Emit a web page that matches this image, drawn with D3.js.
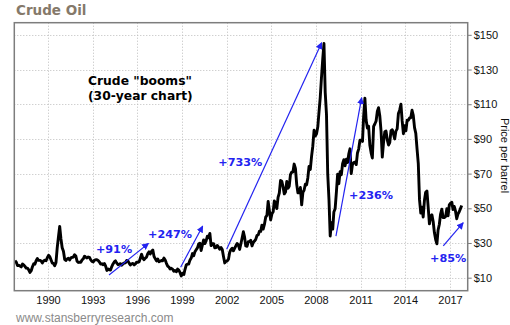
<!DOCTYPE html>
<html><head><meta charset="utf-8">
<script src="https://cdn.jsdelivr.net/npm/d3@7"></script>
<style>body{margin:0;background:#fff}svg{display:block}</style>
</head><body>
<svg id="c" width="510" height="325"></svg>
<script>
// ---- data ----
const startMonth = [1987, 9]; // October 1987 (month index 9)
const pricesUsd = [
  19.8, 18.9, 17.0,
  17.1, 16.7, 16.2, 17.9, 17.4, 16.5, 15.5, 15.5, 14.5, 13.0, 14.0, 16.3,
  18.0, 17.8, 19.8, 21.0, 20.0, 20.0, 19.6, 18.5, 19.6, 20.1, 19.8, 21.5,
  22.9, 22.1, 20.4, 18.4, 18.2, 16.9, 18.6, 27.2, 33.7, 39.5, 32.3, 27.3,
  25.2, 20.5, 19.9, 20.8, 21.2, 20.2, 21.4, 21.7, 21.9, 23.2, 22.5, 19.5,
  18.8, 19.0, 18.9, 20.2, 20.9, 22.4, 21.8, 21.4, 21.9, 21.7, 20.3, 19.4,
  19.1, 20.1, 20.3, 20.3, 19.9, 19.1, 17.9, 18.0, 17.5, 18.2, 16.7, 14.2,
  15.0, 14.5, 14.4, 16.4, 17.9, 19.1, 19.7, 18.4, 17.5, 17.7, 18.1, 17.2,
  18.0, 18.5, 18.6, 19.9, 19.7, 18.4, 17.3, 18.0, 18.2, 17.4, 18.0, 19.0,
  18.9, 19.1, 21.3, 23.5, 21.2, 20.4, 21.3, 21.9, 23.9, 24.9, 23.7, 25.2,
  25.9, 22.2, 21.0, 19.7, 20.8, 19.2, 19.6, 19.9, 19.8, 21.3, 20.2, 18.3,
  16.7, 16.1, 15.0, 15.4, 14.9, 13.7, 14.1, 13.4, 15.0, 14.4, 12.9, 11.0,
  12.5, 11.8, 14.7, 17.3, 17.8, 17.9, 20.1, 21.3, 23.9, 22.6, 25.0, 26.1,
  27.2, 29.4, 29.9, 25.7, 28.8, 31.8, 29.7, 31.2, 33.9, 33.1, 35.5, 28.5,
  29.6, 29.6, 27.2, 27.4, 28.6, 27.6, 26.4, 27.4, 26.2, 22.2, 18.5, 19.4,
  19.7, 20.7, 24.5, 26.2, 27.0, 25.5, 26.9, 28.4, 29.7, 28.9, 26.3, 29.4,
  32.9, 36.5, 33.6, 28.3, 28.1, 30.7, 30.8, 31.6, 28.3, 30.3, 31.1, 32.1,
  34.3, 34.7, 36.8, 36.7, 40.3, 38.0, 40.7, 44.9, 45.9, 54.0, 48.5, 43.3,
  46.8, 48.0, 54.3, 53.0, 49.8, 56.3, 58.7, 66.0, 65.6, 62.4, 58.3, 59.4,
  65.5, 61.6, 62.7, 69.4, 70.8, 70.9, 75.5, 73.0, 63.8, 58.9, 59.1, 62.0,
  52.0, 59.3, 60.4, 63.9, 63.5, 67.5, 74.1, 72.4, 79.9, 85.8, 95.0, 91.7,
  93.0, 97.0, 105.5, 114.0, 125.4, 136.0, 145.0, 116.7, 104.1, 70.0, 55.0, 34.0,
  41.7, 38.0, 47.9, 49.7, 59.0, 69.6, 64.2, 71.1, 69.4, 75.7, 78.0, 74.5,
  78.3, 76.4, 81.2, 84.3, 70.0, 75.3, 76.3, 76.6, 75.2, 81.9, 84.3, 89.2,
  89.2, 88.6, 102.9, 113.5, 100.9, 96.3, 97.3, 86.3, 82.0, 79.0, 97.2, 98.6,
  100.3, 106.0, 108.0, 103.3, 94.7, 79.5, 87.9, 94.1, 94.5, 89.5, 86.5, 87.9,
  94.8, 95.3, 92.9, 90.0, 94.5, 95.8, 104.6, 106.6, 110.0, 100.5, 93.0, 97.6,
  94.6, 100.8, 100.8, 102.1, 102.2, 106.5, 103.6, 96.5, 93.2, 84.4, 75.8, 55.0,
  47.2, 50.6, 45.0, 54.5, 59.3, 60.0, 50.9, 41.0, 45.5, 46.2, 42.4, 36.0,
  32.0, 29.5, 37.5, 40.8, 46.7, 49.5, 44.7, 44.7, 45.2, 49.8, 45.7, 52.0,
  53.0, 53.5, 49.3, 51.1, 48.5, 44.0, 46.6, 48.0, 49.8, 51.6
];
const xTickYears = [1990, 1993, 1996, 1999, 2002, 2005, 2008, 2011, 2014, 2017];
const yTickValues = [10, 30, 50, 70, 90, 110, 130, 150];
// annotations: label, label anchor (year, price), arrow start (year, price), arrow end (year, price)
const boomLabels = ["+91%", "+247%", "+733%", "+236%", "+85%"];
const labelAt   = [[1993.22, 24.2], [1996.72, 32.9], [2001.44, 74.6], [2010.22, 55.4], [2015.66, 19.05]];
const arrowFrom = [[1994.10, 11.6], [1998.91, 16.0], [2002.0, 26.4], [2009.34, 34.0], [2016.55, 28.3]];
const arrowTo   = [[1996.75, 29.8], [2000.39, 39.8], [2008.38, 145.5], [2011.07, 113.8], [2017.89, 41.7]];

// ---- scales ----
const L = 14.3, R = 467.7, T = 22.7, B = 290.7;
const yearToDate = yr => { const y = Math.floor(yr); const f = yr - y;
  const a = new Date(y, 0, 1), b = new Date(y + 1, 0, 1); return new Date(+a + f * (b - a)); };
const xRef = d3.scaleTime().domain([new Date(1990,0,1), new Date(2017,0,1)]).range([48, 450]);
const x = d3.scaleTime().domain([xRef.invert(L), xRef.invert(R)]).range([L, R]);
const y = d3.scaleLinear().domain([2.5, 157]).range([B, T]);

const data = pricesUsd.map((v, i) => ({ date: new Date(startMonth[0], startMonth[1] + i, 15), v }));

const svg = d3.select("#c");

// title
svg.append("text").attr("x", 16).attr("y", 15)
  .style("font-family", "DejaVu Sans, Verdana, sans-serif").style("font-weight", "bold")
  .style("font-size", "13.5px").attr("fill", "#85796a").text("Crude Oil");

// gridlines
const grid = svg.append("g").attr("stroke", "#bdbdbd").attr("stroke-dasharray", "1,2").attr("stroke-width", 1);
grid.selectAll("line.v").data(xTickYears).join("line").attr("class","v")
  .attr("x1", d => Math.round(x(new Date(d,0,1))) + 0.5).attr("x2", d => Math.round(x(new Date(d,0,1))) + 0.5)
  .attr("y1", T).attr("y2", B);
grid.selectAll("line.h").data(yTickValues).join("line").attr("class","h")
  .attr("y1", d => Math.round(y(d)) + 0.5).attr("y2", d => Math.round(y(d)) + 0.5)
  .attr("x1", L).attr("x2", R);

// price line
svg.append("path").datum(data)
  .attr("fill", "none").attr("stroke", "#000").attr("stroke-width", 2.9)
  .attr("stroke-linejoin", "round")
  .attr("d", d3.line().x(d => x(d.date)).y(d => y(d.v)));

// frame
svg.append("rect").attr("x", L).attr("y", T).attr("width", R - L).attr("height", B - T)
  .attr("fill", "none").attr("stroke", "#7d7d7d").attr("stroke-width", 1.5);

// axes
const yAxis = svg.append("g").attr("transform", `translate(${R},0)`)
  .call(d3.axisRight(y).tickValues(yTickValues).tickSize(4).tickPadding(2).tickFormat(d => "$" + d));
yAxis.select(".domain").remove();
yAxis.selectAll("line").attr("stroke", "#7d7d7d");
yAxis.selectAll("text").style("font-family", "Liberation Sans, Arial, sans-serif").style("font-size", "11px").attr("fill", "#111");

const xAxis = svg.append("g").attr("transform", `translate(0,${B})`)
  .call(d3.axisBottom(x).tickValues(xTickYears.map(d => new Date(d,0,1))).tickSize(0).tickPadding(6).tickFormat(d3.timeFormat("%Y")));
xAxis.select(".domain").remove();
xAxis.selectAll("text").style("font-family", "Liberation Sans, Arial, sans-serif").style("font-size", "11px").attr("fill", "#111");

// axis title
svg.append("text").attr("transform", "translate(500.5,155.5) rotate(90)").attr("text-anchor", "middle")
  .style("font-family", "Liberation Sans, Arial, sans-serif").style("font-size", "11px").attr("fill", "#111")
  .text("Price per barrel");

// chart note
const note = svg.append("text").style("font-family", "DejaVu Sans, Verdana, sans-serif")
  .style("font-weight", "bold").style("font-size", "12.3px").attr("fill", "#000");
note.append("tspan").attr("x", 88).attr("y", 85).text('Crude "booms"');
note.append("tspan").attr("x", 88).attr("y", 100).text("(30-year chart)");

// arrows
const blue = "#2323f0";
svg.append("defs").append("marker").attr("id", "ah").attr("viewBox", "0 0 10 10")
  .attr("refX", 9).attr("refY", 5).attr("markerWidth", 7).attr("markerHeight", 7)
  .attr("markerUnits", "userSpaceOnUse").attr("orient", "auto")
  .append("path").attr("d", "M0,0L10,5L0,10Z").attr("fill", blue);
svg.selectAll("line.arrow").data(boomLabels).join("line").attr("class", "arrow")
  .attr("x1", (d, i) => x(yearToDate(arrowFrom[i][0]))).attr("y1", (d, i) => y(arrowFrom[i][1]))
  .attr("x2", (d, i) => x(yearToDate(arrowTo[i][0]))).attr("y2", (d, i) => y(arrowTo[i][1]))
  .attr("stroke", blue).attr("stroke-width", 1.2).attr("marker-end", "url(#ah)");
svg.selectAll("text.boom").data(boomLabels).join("text").attr("class", "boom")
  .attr("x", (d, i) => x(yearToDate(labelAt[i][0]))).attr("y", (d, i) => y(labelAt[i][1]))
  .style("font-family", "DejaVu Sans, Verdana, sans-serif").style("font-weight", "bold")
  .style("font-size", "11.2px").attr("fill", blue).text(d => d);

// source
svg.append("text").attr("x", 16).attr("y", 322)
  .style("font-family", "Liberation Sans, Arial, sans-serif").style("font-size", "12px")
  .attr("fill", "#8a8a8a").text("www.stansberryresearch.com");
</script>
</body></html>
